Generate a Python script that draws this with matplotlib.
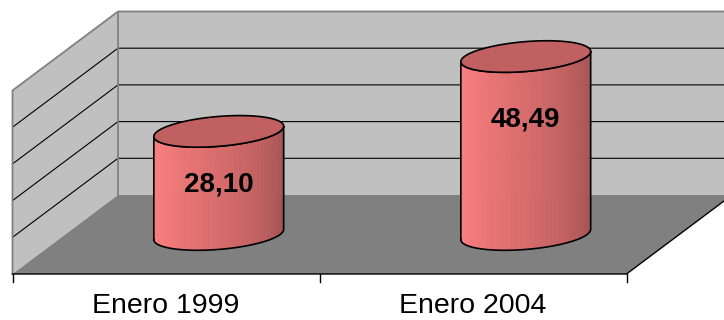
import numpy as np
import matplotlib
matplotlib.use('Agg')
import matplotlib.pyplot as plt
from matplotlib.patches import Polygon

# datos
categorias = ['Enero 1999', 'Enero 2004']
valores = [28.10, 48.49]
y_max = 50
y_paso = 10

# geometria de la vista (pixeles)
W, H = 724, 320
XS = 307.0          # px por categoria
YS = 3.67           # px por unidad de valor
X0, Y0 = 12.5, 274  # esquina frontal izquierda del piso
DX = 105.5 / XS     # desplazamiento de profundidad en x
DY = 79.0 / YS      # desplazamiento de profundidad en y
R = 0.2             # radio del cilindro (categoria y profundidad)

def proj(x, y, z):
    return x + DX * z, y + DY * z

fig = plt.figure(figsize=(W / 100, H / 100), dpi=100)
ax = fig.add_axes([0, 0, 1, 1])
ax.set_xlim(-X0 / XS, (W - X0) / XS)
ax.set_ylim(-(H - Y0) / YS, Y0 / YS)
ax.axis('off')

n = len(categorias)
gris_claro = '#C0C0C0'
gris = '#808080'

# pared del fondo
pared = [proj(0, 0, 1), proj(n, 0, 1), proj(n, y_max, 1), proj(0, y_max, 1)]
ax.add_patch(Polygon(pared, closed=True, fc=gris_claro, ec='none', zorder=1))
# pared izquierda
izq = [proj(0, 0, 0), proj(0, 0, 1), proj(0, y_max, 1), proj(0, y_max, 0)]
ax.add_patch(Polygon(izq, closed=True, fc=gris_claro, ec='none', zorder=1))
# piso
piso = [proj(0, 0, 0), proj(n, 0, 0), proj(n, 0, 1), proj(0, 0, 1)]
ax.add_patch(Polygon(piso, closed=True, fc=gris, ec='none', zorder=2))

# lineas de division
for g in range(y_paso, y_max, y_paso):
    a, b, c = proj(0, g, 0), proj(0, g, 1), proj(n, g, 1)
    ax.plot([a[0], b[0], c[0]], [a[1], b[1], c[1]], color='black', lw=0.8, zorder=3)

# bordes grises de las paredes
bordes = [proj(0, 0, 0), proj(0, y_max, 0), proj(0, y_max, 1), proj(n, y_max, 1)]
ax.plot([p[0] for p in bordes], [p[1] for p in bordes], color=gris, lw=1.3, zorder=3)
b1, b2 = proj(0, 0, 1), proj(0, y_max, 1)
ax.plot([b1[0], b2[0]], [b1[1], b2[1]], color=gris, lw=1.3, zorder=3)

# eje de categorias
f1, f2, f3 = proj(0, 0, 0), proj(n, 0, 0), proj(n, 0, 1)
ax.plot([f1[0], f2[0], f3[0]], [f1[1], f2[1], f3[1]], color='black', lw=1.0, zorder=3)
for i in range(n + 1):
    ax.plot([i, i], [0, -8 / YS], color='black', lw=1.0, zorder=3)
for i, cat in enumerate(categorias):
    ax.text(i + 0.5, -39 / YS, cat, ha='center', va='baseline',
            fontsize=20.5, family='Liberation Sans', color='black')

# cilindros
base = np.array([255, 128, 128]) / 255.0
t0 = np.arctan2(DX * R, R)
ts = np.linspace(t0 + np.pi, t0 + 2 * np.pi, 41)
tt = np.linspace(0, 2 * np.pi, 120)

def elipse(cx, y, t):
    return proj(cx + R * np.cos(t), y, 0.5 + R * np.sin(t))

for i, v in enumerate(valores):
    cx = i + 0.5
    bx, by = elipse(cx, 0, ts)
    tx, ty = elipse(cx, v, ts)
    k = len(ts) - 1
    for j in range(k):
        f = j / (k - 1)
        sh = 1.0 - 0.38 * f ** 1.3
        col = np.clip(base * sh, 0, 1)
        quad = [(bx[j], by[j]), (bx[j + 1], by[j + 1]), (tx[j + 1], ty[j + 1]), (tx[j], ty[j])]
        ax.add_patch(Polygon(quad, closed=True, fc=col, ec=col, lw=0.4, zorder=5 + i))
    # contorno del cuerpo
    ox = np.concatenate([bx, tx[::-1], bx[:1]])
    oy = np.concatenate([by, ty[::-1], by[:1]])
    ax.plot(ox, oy, color='black', lw=1.2, zorder=5.5 + i)
    # tapa
    ex, ey = elipse(cx, v, tt)
    ax.add_patch(Polygon(np.column_stack([ex, ey]), closed=True, fc='#C06060',
                         ec='black', lw=1.2, zorder=5.6 + i))
    # etiqueta
    lx, ly = proj(cx, 0.86 * v - 10.5, 0.5)
    ax.text(lx, ly, f'{v:.2f}'.replace('.', ','), ha='center', va='center',
            fontsize=20, fontweight='bold', family='Liberation Sans',
            color='black', zorder=10)

fig.savefig('out.png', dpi=100)
